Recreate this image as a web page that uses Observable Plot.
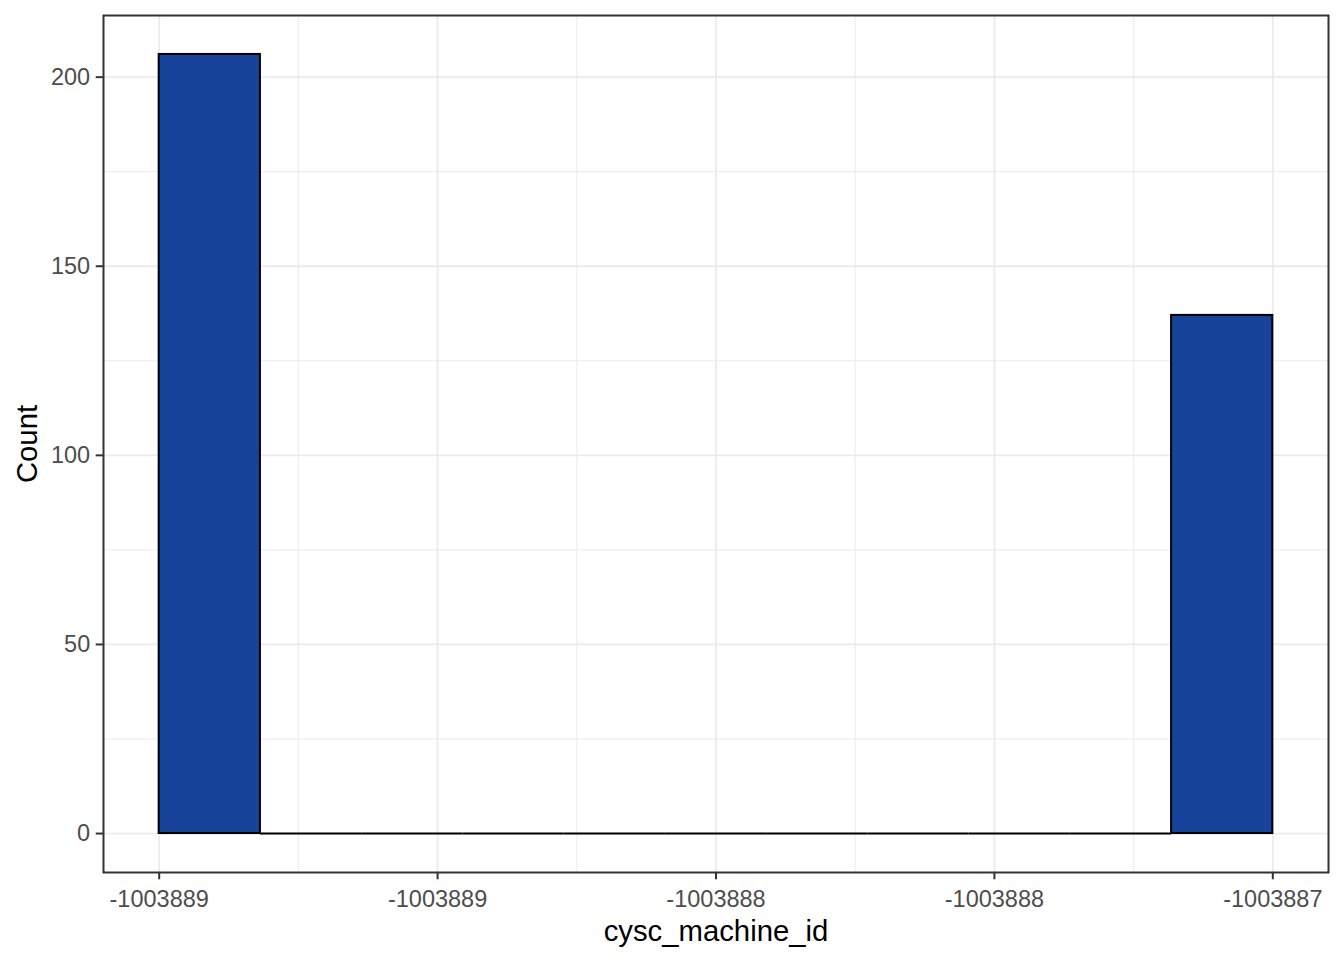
<!DOCTYPE html>
<html>
<head>
<meta charset="utf-8">
<script src="https://cdn.jsdelivr.net/npm/d3@7"></script>
<script src="https://cdn.jsdelivr.net/npm/@observablehq/plot@0.6"></script>
<style>
  html, body { margin: 0; padding: 0; background: #fff; }
  svg { display: block; }
</style>
</head>
<body>
<div id="chart"></div>
<script>
// Histogram bins (edges, 11 bins of width 2/11) and counts
const binEdges = [-1003889, -1003888.818182, -1003888.636364, -1003888.454545, -1003888.272727,
                  -1003888.090909, -1003887.909091, -1003887.727273, -1003887.545455,
                  -1003887.363636, -1003887.181818, -1003887];
const counts = [206, 0, 0, 0, 0, 0, 0, 0, 0, 0, 137];

const xTicks = [-1003889, -1003888.5, -1003888, -1003887.5, -1003887];
const xTickLabels = ["-1003889", "-1003889", "-1003888", "-1003888", "-1003887"];
const xMinor = [-1003888.75, -1003888.25, -1003887.75, -1003887.25];
const yTicks = [0, 50, 100, 150, 200];
const yMinor = [25, 75, 125, 175];

const bins = counts.map((c, i) => ({x1: binEdges[i], x2: binEdges[i + 1], count: c}));
const filled = bins.filter(d => d.count > 0);
const empty = bins.filter(d => d.count === 0);

const chart = Plot.plot({
  width: 1344,
  height: 960,
  marginLeft: 103,
  marginRight: 16,
  marginTop: 15,
  marginBottom: 88,
  style: {fontFamily: "'Liberation Sans', Arial, sans-serif", background: "#fff"},
  x: {domain: [-1003889.1, -1003886.9]},
  y: {domain: [-10.3, 216.3]},
  marks: [
    Plot.ruleX(xMinor, {stroke: "#EBEBEB", strokeWidth: 1}),
    Plot.ruleY(yMinor, {stroke: "#EBEBEB", strokeWidth: 1}),
    Plot.ruleX(xTicks, {stroke: "#EBEBEB", strokeWidth: 1.8}),
    Plot.ruleY(yTicks, {stroke: "#EBEBEB", strokeWidth: 1.8}),
    Plot.ruleY(empty, {y: "count", x1: "x1", x2: "x2", stroke: "#000", strokeWidth: 2}),
    Plot.rectY(filled, {x1: "x1", x2: "x2", y1: 0, y2: "count", fill: "#17449A", stroke: "#000", strokeWidth: 2}),
    Plot.frame({stroke: "#333333", strokeWidth: 2}),
    Plot.axisX({
      ticks: xTicks,
      tickFormat: (d, i) => xTickLabels[i],
      tickSize: 7.3,
      tickPadding: 11,
      strokeWidth: 2,
      stroke: "#333333",
      fill: "#4D4D4D",
      fontSize: 23.5,
      label: null
    }),
    Plot.axisY({
      ticks: yTicks,
      tickSize: 7.3,
      tickPadding: 6,
      strokeWidth: 2,
      stroke: "#333333",
      fill: "#4D4D4D",
      fontSize: 23.5,
      label: null
    }),
    Plot.text(["cysc_machine_id"], {frameAnchor: "bottom", dy: 68, fontSize: 29.3, fill: "#000", text: d => d}),
    Plot.text(["Count"], {frameAnchor: "left", dx: -76, rotate: -90, textAnchor: "middle", fontSize: 29.3, fill: "#000", text: d => d})
  ]
});
document.getElementById("chart").appendChild(chart);
</script>
</body>
</html>
